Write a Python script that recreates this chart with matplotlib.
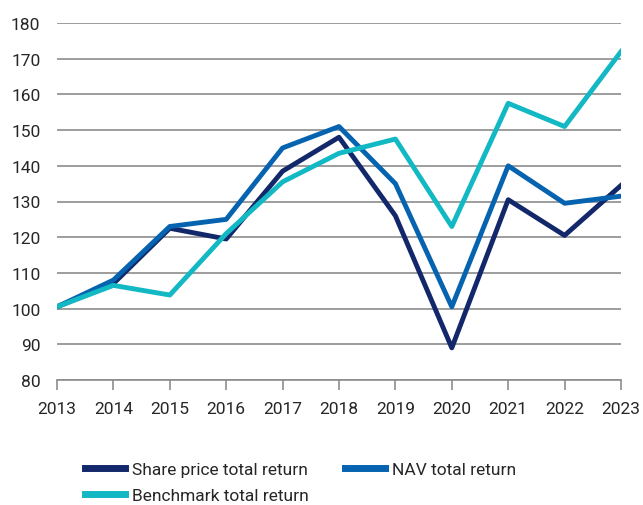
import numpy as np
import matplotlib.pyplot as plt

years = ["2013", "2014", "2015", "2016", "2017", "2018", "2019", "2020", "2021", "2022", "2023"]
share_price = [100.5, 107, 122.5, 119.5, 138.5, 148, 126, 89, 130.5, 120.5, 134.5]
nav = [100.5, 108, 123, 125, 145, 151, 135, 100.5, 140, 129.5, 131.5]
benchmark = [100.5, 106.5, 103.8, 121, 135.5, 143.5, 147.5, 123, 157.5, 151, 172]

plt.rcParams['font.family'] = ['Roboto', 'DejaVu Sans']

fig = plt.figure(figsize=(6.43, 5.06), dpi=100)
ax = fig.add_axes([57/643, 1-381/506, (621-57)/643, (381-24)/506])

x = np.arange(len(years))
l1, = ax.plot(x, share_price, color="#12286a", lw=3.5, label="Share price total return", zorder=3)
l2, = ax.plot(x, nav, color="#0563b0", lw=3.5, label="NAV total return", zorder=3)
l3, = ax.plot(x, benchmark, color="#12b8c4", lw=3.5, label="Benchmark total return", zorder=3)

ax.set_xlim(0, len(years)-1)
ax.set_ylim(80, 180)
ax.set_yticks(range(80, 181, 10))
ax.set_xticks(x)
ax.set_xticklabels(years)
ax.yaxis.grid(True, color="#8c8c8c", lw=1.2)
ax.set_axisbelow(True)
for s in ["top", "right", "left"]:
    ax.spines[s].set_visible(False)
ax.spines["bottom"].set_color("#8c8c8c")
ax.spines["bottom"].set_linewidth(1.2)
ax.tick_params(axis="y", length=0, pad=12, labelsize=12.5, labelcolor="#262626")
ax.tick_params(axis="x", length=7, width=1.2, color="#8c8c8c", pad=8, labelsize=12.5, labelcolor="#262626")

# row-major order: share, nav on first row; benchmark on second
leg = ax.legend([l1, l3, l2], [l1.get_label(), l3.get_label(), l2.get_label()],
                loc="upper left", bbox_to_anchor=(0.05, -0.23), ncol=2, frameon=False,
                fontsize=12.5, handlelength=2.3, handletextpad=0.4, columnspacing=2.1,
                labelspacing=0.6, borderaxespad=0, borderpad=0)
for t in leg.get_texts():
    t.set_color("#262626")
for h in leg.get_lines():
    h.set_linewidth(5)

plt.savefig("out.png", dpi=100)
